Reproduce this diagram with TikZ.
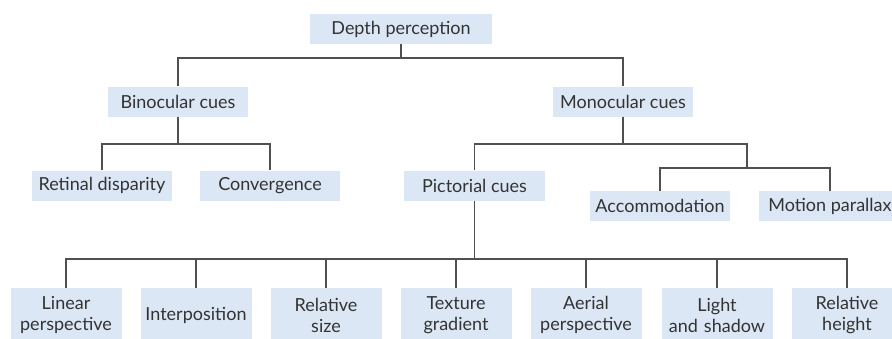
\documentclass[tikz,border=0pt]{standalone}
\usepackage{fontspec}
\setmainfont{Lato}
\definecolor{boxfill}{HTML}{DCE7F5}
\definecolor{txt}{HTML}{333333}
\definecolor{lne}{HTML}{505050}
\begin{document}
\begin{tikzpicture}[x=1pt,y=-1pt,
  cbox/.style={fill=boxfill,text=txt,inner sep=0pt,minimum width=140pt,minimum height=30pt,font=\fontsize{18}{21}\selectfont},
  bbox/.style={fill=boxfill,text=txt,inner sep=0pt,minimum width=111pt,minimum height=54pt,text width=111pt,align=center,font=\fontsize{18}{21}\selectfont},
  conn/.style={draw=lne,line width=1.3pt}]
\useasboundingbox (0,0) rectangle (892,338);
\clip (0,0) rectangle (892,338);
\fill[white] (0,0) rectangle (892,338);
\node[cbox,minimum width=182pt] (dp) at (401,29) {Depth perception};
\node[cbox] (bin) at (178,101.5) {Binocular cues};
\node[cbox] (mon) at (623,101.5) {Monocular cues};
\node[cbox] (ret) at (102,185.5) {Retinal disparity};
\node[cbox] (conv) at (270,185.5) {Convergence};
\node[cbox,minimum width=141pt] (pic) at (474.5,185.5) {Pictorial cues};
\node[cbox] (acc) at (660,206) {Accommodation};
\node[cbox,minimum width=142pt] (mp) at (830,206) {Motion parallax};
\node[bbox] (b1) at (66,315) {Linear\\perspective};
\node[bbox] (b2) at (196,315) {Interposition};
\node[bbox] (b3) at (326,315) {Relative\\size};
\node[bbox] (b4) at (456,315) {Texture\\gradient};
\node[bbox] (b5) at (586,315) {Aerial\\perspective};
\node[bbox] (b6) at (717,315) {Light\\and shadow};
\node[bbox] (b7) at (847,315) {Relative\\height};
\coordinate (ya) at (0,58);
\coordinate (yb) at (0,144);
\coordinate (yc) at (0,168);
\coordinate (yd) at (0,259);
\coordinate (k) at (747,144);
\draw[conn] (dp.south) -- (dp.south |- ya);
\draw[conn] (bin.north) |- (mon.north |- ya) -- (mon.north);
\draw[conn] (bin.south) -- (bin.south |- yb);
\draw[conn] (ret.north) |- (conv.north |- yb) -- (conv.north);
\draw[conn] (mon.south) -- (mon.south |- yb);
\draw[conn] (pic.north) |- (k) -- (k |- yc);
\draw[conn] (acc.north) |- (mp.north |- yc) -- (mp.north);
\draw[conn] (pic.south) -- (pic.south |- yd);
\draw[conn] (b1.north) |- (b7.north |- yd) -- (b7.north);
\foreach \n in {b2,b3,b4,b5,b6} \draw[conn] (\n.north) -- (\n.north |- yd);
\end{tikzpicture}
\end{document}
